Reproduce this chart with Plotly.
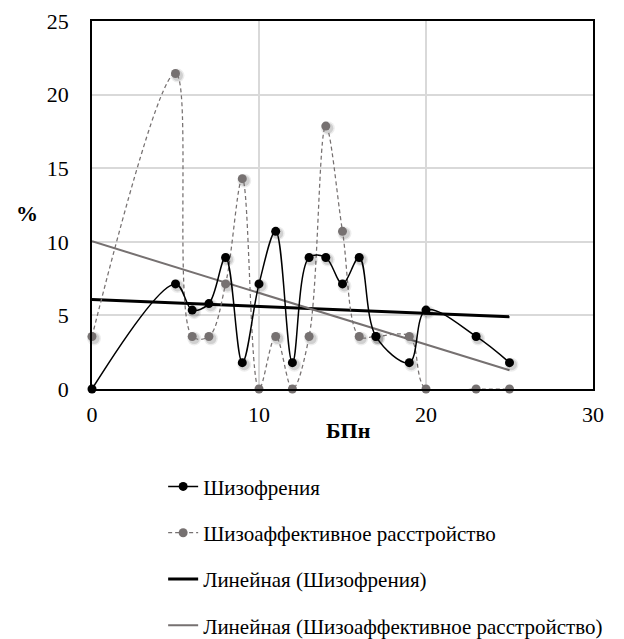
import numpy as np
import plotly.graph_objects as go

# Значения БПн и доля пациентов (%) в каждой группе
bpn = [0, 5, 6, 7, 8, 9, 10, 11, 12, 13, 14, 15, 16, 17, 19, 20, 23, 25]
schizophrenia = [0, 7.14, 5.36, 5.8, 8.93, 1.79, 7.14, 10.71, 1.79, 8.93,
                 8.93, 7.14, 8.93, 3.57, 1.79, 5.36, 3.57, 1.79]
schizoaffective = [3.57, 21.43, 3.57, 3.57, 7.14, 14.29, 0, 3.57, 0, 3.57,
                   17.86, 10.71, 3.57, 3.57, 3.57, 0, 0, 0]

names = ["Шизофрения", "Шизоаффективное расстройство",
         "Линейная (Шизофрения)", "Линейная (Шизоаффективное расстройство)"]

x_ticks = [0, 10, 20, 30]
y_ticks = [0, 5, 10, 15, 20, 25]

FONT = "'Liberation Serif', 'Times New Roman', Times, serif"
GRAY = "#767171"


def linear_fit(x, y):
    k, b = np.polyfit(np.asarray(x, float), np.asarray(y, float), 1)
    xs = np.array([min(x), max(x)], float)
    return xs, k * xs + b


def marker_shadow(x, y):
    # мягкая тень маркеров, смещённая вправо-вниз
    sx = np.asarray(x, float) + 0.12
    sy = np.asarray(y, float) - 0.14
    for size, alpha in ((14, 0.07), (11, 0.12)):
        fig.add_trace(go.Scatter(
            x=sx, y=sy, mode="markers", showlegend=False, hoverinfo="skip",
            marker=dict(color=f"rgba(0,0,0,{alpha})", size=size),
            cliponaxis=False,
        ))


fig = go.Figure()

# Линии тренда рисуются под рядами данных
tx, ty = linear_fit(bpn, schizophrenia)
fig.add_trace(go.Scatter(
    x=tx, y=ty, name=names[2], legendgroup="c", legendrank=3, mode="lines",
    line=dict(color="black", width=3),
))

tx, ty = linear_fit(bpn, schizoaffective)
fig.add_trace(go.Scatter(
    x=tx, y=ty, name=names[3], legendgroup="d", legendrank=4, mode="lines",
    line=dict(color=GRAY, width=2),
))

marker_shadow(bpn, schizoaffective)
fig.add_trace(go.Scatter(
    x=bpn, y=schizoaffective, name=names[1], legendgroup="b", legendrank=2,
    mode="lines+markers",
    line=dict(color=GRAY, width=1.25, dash="4px,3px", shape="spline",
              smoothing=1.0),
    marker=dict(color=GRAY, size=9),
    cliponaxis=False,
))

marker_shadow(bpn, schizophrenia)
fig.add_trace(go.Scatter(
    x=bpn, y=schizophrenia, name=names[0], legendgroup="a", legendrank=1,
    mode="lines+markers",
    line=dict(color="black", width=1.5, shape="spline", smoothing=1.0),
    marker=dict(color="black", size=9),
    cliponaxis=False,
))

fig.update_layout(
    width=624, height=639,
    margin=dict(l=92, r=31, t=21, b=250, autoexpand=False),
    paper_bgcolor="white", plot_bgcolor="white",
    font=dict(family=FONT, size=22, color="black"),
    showlegend=True,
    legend=dict(
        orientation="v", x=0.142, xanchor="left", y=-0.21, yanchor="top",
        font=dict(family=FONT, size=21, color="black"),
        traceorder="grouped", tracegroupgap=16,
        itemwidth=30, bgcolor="rgba(0,0,0,0)",
    ),
    xaxis=dict(
        range=[0, 30], tickvals=x_ticks, ticks="", showgrid=True,
        gridcolor="#d9d9d9", gridwidth=1.5, zeroline=False,
        showline=True, linecolor="black", linewidth=1.5, mirror=True,
        tickfont=dict(family=FONT, size=22), ticklabelstandoff=5,
    ),
    yaxis=dict(
        range=[0, 25], tickvals=y_ticks, ticks="", showgrid=True,
        gridcolor="#d9d9d9", gridwidth=1.5, zeroline=False,
        showline=True, linecolor="black", linewidth=1.5, mirror=True,
        tickfont=dict(family=FONT, size=22), ticklabelstandoff=17,
    ),
)

# Подписи осей
fig.add_annotation(text="<b>БПн</b>", xref="paper", yref="paper",
                   x=0.512, y=-0.112, xanchor="center", yanchor="middle",
                   showarrow=False,
                   font=dict(family=FONT, size=22, color="black"))
fig.add_annotation(text="<b>%</b>", xref="paper", yref="paper",
                   x=-0.13, y=0.478, xanchor="center", yanchor="middle",
                   showarrow=False,
                   font=dict(family=FONT, size=22, color="black"))

fig.write_html("out.html")
